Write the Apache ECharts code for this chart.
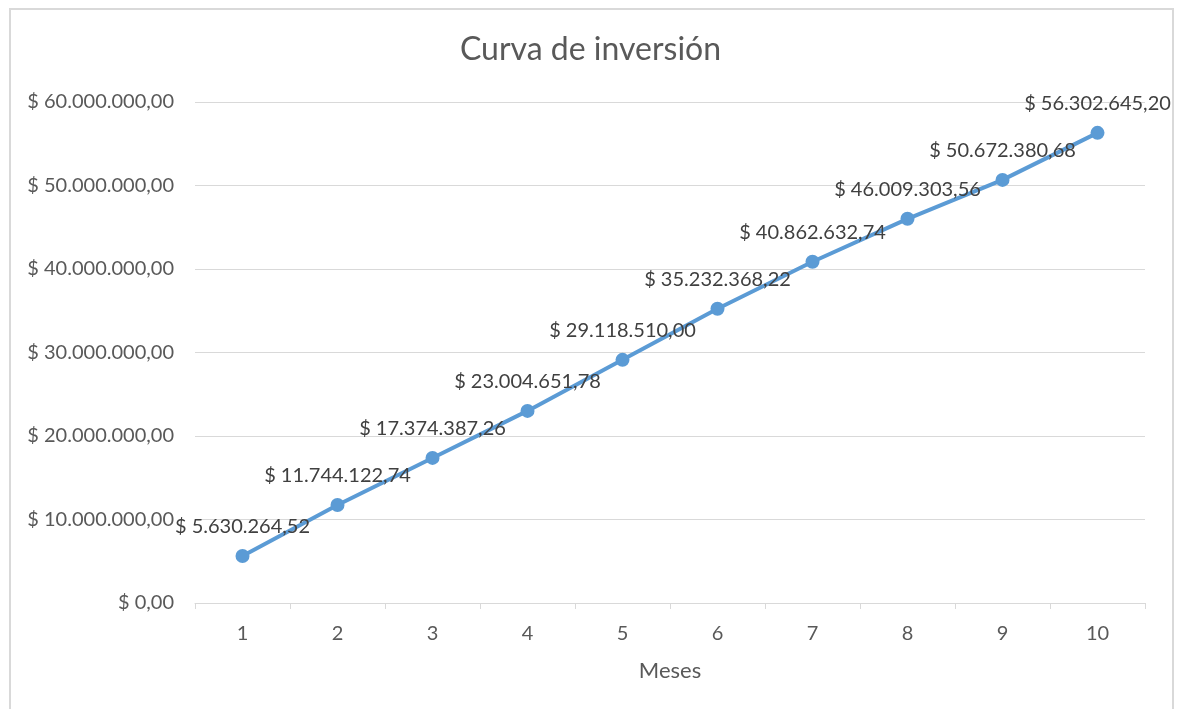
<!DOCTYPE html>
<html>
<head>
<meta charset="utf-8">
<script src="https://cdn.jsdelivr.net/npm/echarts@6/dist/echarts.min.js"></script>
<style>html,body{margin:0;padding:0;background:#fff;}#c{width:1181px;height:709px;}</style>
</head>
<body>
<div id="c"></div>
<script>
const months = ['1','2','3','4','5','6','7','8','9','10'];
const investment = [5630264.52, 11744122.74, 17374387.26, 23004651.78, 29118510.00, 35232368.22, 40862632.74, 46009303.56, 50672380.68, 56302645.20];
const titleText = 'Curva de inversión';
const xAxisName = 'Meses';

function fmt(v){
  const parts = Number(v).toFixed(2).split('.');
  const intPart = parts[0].replace(/\B(?=(\d{3})+(?!\d))/g, '.');
  return '$ ' + intPart + ',' + parts[1];
}

const chart = echarts.init(document.getElementById('c'), null, {renderer:'canvas'});
chart.setOption({
  animation:false,
  backgroundColor:'#fff',
  textStyle:{fontFamily:'Lato'},
  title:{text:titleText,left:'center',top:29,textStyle:{fontFamily:'Lato',fontSize:32,fontWeight:'normal',color:'#595959'}},
  graphic:[{type:'rect',shape:{x:10,y:9,width:1163,height:720},style:{fill:'none',stroke:'#d9d9d9',lineWidth:2},silent:true}],
  grid:{left:195,right:36,top:102,bottom:106},
  xAxis:{
    type:'category',data:months,boundaryGap:true,
    name:xAxisName,nameLocation:'middle',nameGap:57,
    nameTextStyle:{fontFamily:'Lato',fontSize:22,color:'#595959'},
    axisLine:{lineStyle:{color:'#d9d9d9',width:1}},
    axisTick:{show:true,length:6,lineStyle:{color:'#d9d9d9'}},
    axisLabel:{fontFamily:'Lato',fontSize:20,color:'#595959',margin:21}
  },
  yAxis:{
    type:'value',min:0,max:60000000,interval:10000000,
    axisLine:{show:false},axisTick:{show:false},
    splitLine:{lineStyle:{color:'#d9d9d9',width:1}},
    axisLabel:{fontFamily:'Lato',fontSize:20,color:'#595959',margin:21,formatter:fmt}
  },
  series:[{
    type:'line',data:investment,
    symbol:'circle',symbolSize:14,
    lineStyle:{color:'#5b9bd5',width:4},
    itemStyle:{color:'#5b9bd5'},
    label:{show:true,position:'top',distance:12,fontFamily:'Lato',fontSize:20,color:'#404040',formatter:p=>fmt(p.value)}
  }]
});
</script>
</body>
</html>
